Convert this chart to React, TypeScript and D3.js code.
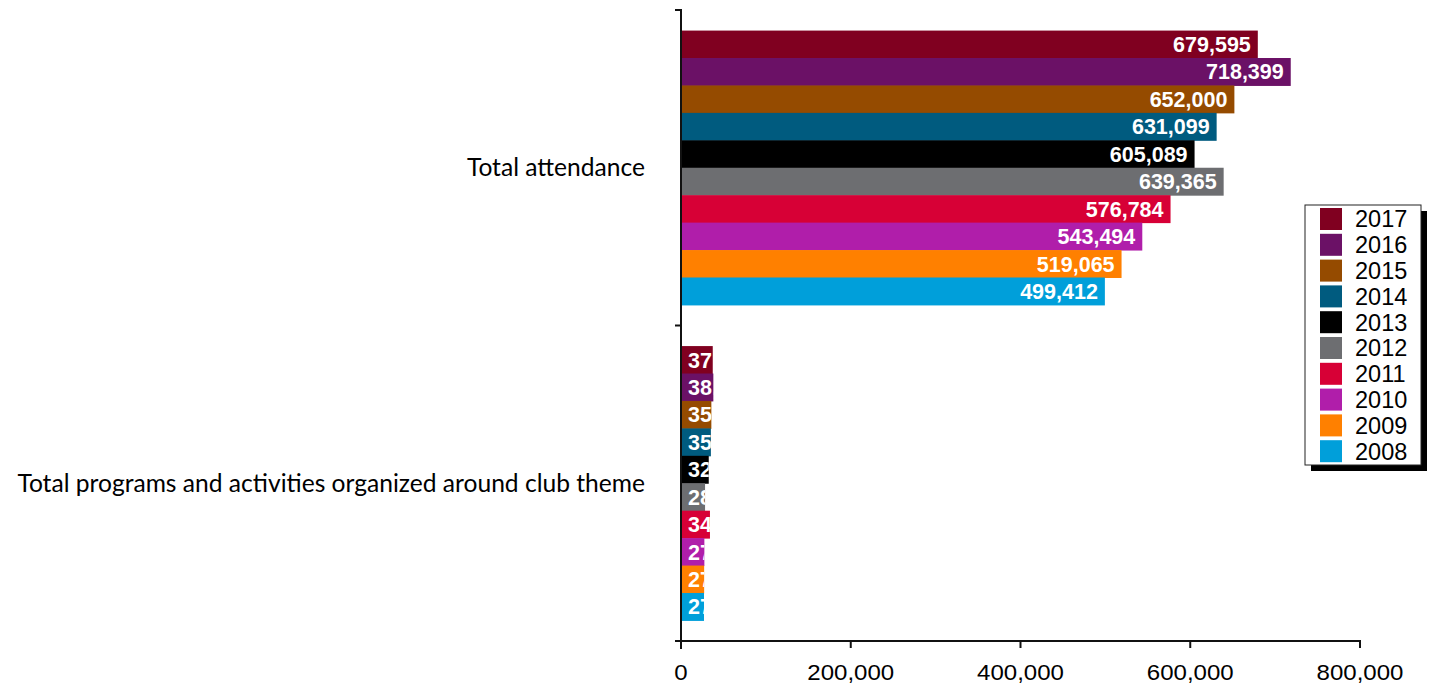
import React, { useEffect, useRef } from "react";
import * as d3 from "d3";

const categories = ["Total attendance", "Total programs and activities organized around club theme"];
const years = ["2017", "2016", "2015", "2014", "2013", "2012", "2011", "2010", "2009", "2008"];
const attendance = [679595, 718399, 652000, 631099, 605089, 639365, 576784, 543494, 519065, 499412];
const programs = [37412, 38106, 35760, 35208, 32690, 28345, 34118, 27530, 27275, 27102];
const colors = ["#800020", "#6B1166", "#954B00", "#005B7F", "#000000", "#6D6E71", "#D70036", "#B01EAA", "#FF8000", "#009FDA"];
const xTicks = [0, 200000, 400000, 600000, 800000];

const W = 1429;
const H = 689;
const ARIAL = "'Liberation Sans', Arial, sans-serif";

export default function App() {
  const ref = useRef<SVGSVGElement | null>(null);

  useEffect(() => {
    const svg = d3.select(ref.current);
    svg.selectAll("*").remove();

    const seriesByCat = [attendance, programs];
    const x = d3.scaleLinear().domain([0, 800000]).range([681, 1360]);
    const y0 = d3.scaleBand<string>().domain(categories).range([10, 641]).padding(0);
    const y1 = d3.scaleBand<string>().domain(years).range([0, y0.bandwidth()]).paddingInner(0).paddingOuter(0.75);
    const color = d3.scaleOrdinal<string, string>().domain(years).range(colors);
    const fmt = d3.format(",");

    const defs = svg.append("defs");

    // bars
    categories.forEach((cat, ci) => {
      const g = svg.append("g").attr("transform", `translate(0,${y0(cat)})`);
      years.forEach((yr, yi) => {
        const v = seriesByCat[ci][yi];
        const bx = x(0) + 1;
        const bw = x(v) - bx;
        const by = y1(yr)!;
        const bh = y1.bandwidth();
        g.append("rect")
          .attr("x", bx)
          .attr("y", by)
          .attr("width", bw)
          .attr("height", bh + 0.5)
          .attr("fill", color(yr));
        const id = `clip-${ci}-${yi}`;
        defs.append("clipPath").attr("id", id)
          .append("rect").attr("x", bx).attr("y", y0(cat)! + by).attr("width", bw).attr("height", bh);
        const fits = bw > 100;
        const tx = fits ? x(v) - 7 : x(0) + 7;
        svg.append("text")
          .attr("clip-path", fits ? null : `url(#${id})`)
          .attr("x", tx)
          .attr("y", y0(cat)! + by + bh / 2)
          .attr("dy", "0.36em")
          .attr("text-anchor", fits ? "end" : "start")
          .attr("font-family", ARIAL)
          .attr("font-weight", "bold")
          .attr("font-size", 21.5)
          .attr("fill", "#ffffff")
          .text(fmt(v));
      });
    });

    // category labels
    categories.forEach((cat) => {
      svg.append("text")
        .attr("x", 645)
        .attr("y", y0(cat)! + y0.bandwidth() / 2)
        .attr("dy", "0.35em")
        .attr("text-anchor", "end")
        .attr("font-family", "Lato, 'Open Sans', sans-serif")
        .attr("font-size", 24.6)
        .attr("fill", "#000")
        .text(cat);
    });

    // y axis
    const axisColor = "#111";
    svg.append("line").attr("x1", 681).attr("x2", 681).attr("y1", 9).attr("y2", 649)
      .attr("stroke", axisColor).attr("stroke-width", 2);
    const bounds = [10, ...categories.map((c) => y0(c)! + y0.bandwidth())];
    bounds.forEach((b) => {
      svg.append("line").attr("x1", 675).attr("x2", 681).attr("y1", b).attr("y2", b)
        .attr("stroke", axisColor).attr("stroke-width", 2);
    });

    // x axis
    svg.append("line").attr("x1", 675).attr("x2", x(800000) + 1).attr("y1", 641).attr("y2", 641)
      .attr("stroke", axisColor).attr("stroke-width", 2);
    xTicks.forEach((t) => {
      svg.append("line").attr("x1", x(t)).attr("x2", x(t)).attr("y1", 641).attr("y2", 648)
        .attr("stroke", axisColor).attr("stroke-width", 2);
      svg.append("g")
        .attr("transform", `translate(${x(t)},680) scale(1.12,1)`)
        .append("text")
        .attr("text-anchor", "middle")
        .attr("font-family", ARIAL)
        .attr("font-size", 21.5)
        .attr("fill", "#000")
        .text(fmt(t));
    });

    // legend
    const lx = 1305, ly = 205, lw = 116, lh = 260;
    svg.append("rect").attr("x", lx + 6).attr("y", ly + 6).attr("width", lw).attr("height", lh).attr("fill", "#000");
    svg.append("rect").attr("x", lx).attr("y", ly).attr("width", lw).attr("height", lh)
      .attr("fill", "#fff").attr("stroke", "#222").attr("stroke-width", 1);
    const ls = d3.scaleBand<string>().domain(years).range([ly + 3, ly + 3 + 25.8 * years.length]);
    years.forEach((yr) => {
      const ry = ls(yr)!;
      svg.append("rect").attr("x", 1320).attr("y", ry).attr("width", 22).attr("height", 22).attr("fill", color(yr));
      svg.append("text")
        .attr("x", 1355)
        .attr("y", ry + 11)
        .attr("dy", "0.36em")
        .attr("font-family", ARIAL)
        .attr("font-size", 23.5)
        .attr("fill", "#000")
        .text(yr);
    });
  }, []);

  return (
    <svg ref={ref} width={W} height={H} style={{ position: "absolute", left: 0, top: 0, background: "#fff" }} />
  );
}
